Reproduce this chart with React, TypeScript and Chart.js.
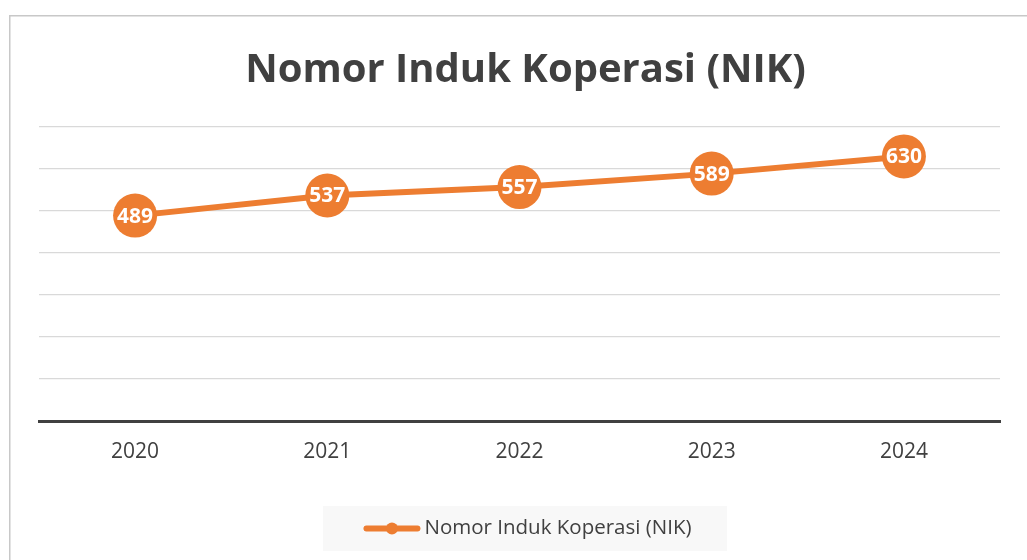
import { useEffect, useRef } from "react";
import { Chart, registerables } from "chart.js";

Chart.register(...registerables);

const chartTitle = "Nomor Induk Koperasi (NIK)";
const seriesLabel = "Nomor Induk Koperasi (NIK)";
const years = ["2020", "2021", "2022", "2023", "2024"];
const nikValues = [489, 537, 557, 589, 630];
const yMin = 0;
const yMax = 700;
const yStep = 100;

const ORANGE = "#ED7D31";
const TEXT = "#404040";
const FONT = "'Open Sans', 'Noto Sans', sans-serif";

const decorPlugin = {
  id: "decor",
  beforeDraw(chart: any) {
    const ctx = chart.ctx as CanvasRenderingContext2D;
    ctx.save();
    ctx.fillStyle = "#ffffff";
    ctx.fillRect(0, 0, chart.width, chart.height);
    ctx.strokeStyle = "#c8c8c8";
    ctx.lineWidth = 1.5;
    ctx.strokeRect(9.75, 15.75, chart.width + 40, chart.height + 40);

    // title
    ctx.fillStyle = TEXT;
    ctx.font = `bold 40px ${FONT}`;
    ctx.textAlign = "center";
    ctx.textBaseline = "alphabetic";
    ctx.fillText(chartTitle, 525.5, 82);

    // legend
    ctx.fillStyle = "#f8f8f8";
    ctx.fillRect(323, 506, 404, 45);
    ctx.font = `20.5px ${FONT}`;
    const tw = ctx.measureText(seriesLabel).width;
    const markerW = 57;
    const gap = 4;
    const total = markerW + gap + tw;
    const start = 527.5 - total / 2;
    const ly = 528.5;
    ctx.strokeStyle = ORANGE;
    ctx.lineWidth = 6;
    ctx.lineCap = "round";
    ctx.beginPath();
    ctx.moveTo(start + 3, ly);
    ctx.lineTo(start + markerW - 3, ly);
    ctx.stroke();
    ctx.fillStyle = ORANGE;
    ctx.beginPath();
    ctx.arc(start + markerW / 2, ly, 6, 0, Math.PI * 2);
    ctx.fill();
    ctx.fillStyle = TEXT;
    ctx.textAlign = "left";
    ctx.textBaseline = "middle";
    ctx.fillText(seriesLabel, start + markerW + gap, ly);
    ctx.restore();
  },
  afterDatasetsDraw(chart: any) {
    const ctx = chart.ctx as CanvasRenderingContext2D;
    const meta = chart.getDatasetMeta(0);
    const data = chart.data.datasets[0].data as number[];
    ctx.save();
    ctx.fillStyle = "#ffffff";
    ctx.font = `bold 21px ${FONT}`;
    ctx.textAlign = "center";
    ctx.textBaseline = "middle";
    meta.data.forEach((pt: any, i: number) => {
      ctx.fillText(String(data[i]), pt.x, pt.y + 1);
    });
    ctx.restore();
  },
};

export default function App() {
  const ref = useRef<HTMLCanvasElement | null>(null);
  useEffect(() => {
    if (!ref.current) return;
    const chart = new Chart(ref.current, {
      type: "line",
      data: {
        labels: years,
        datasets: [
          {
            label: seriesLabel,
            data: nikValues,
            borderColor: ORANGE,
            backgroundColor: ORANGE,
            borderWidth: 6,
            pointRadius: 22,
            pointHoverRadius: 22,
            pointBackgroundColor: ORANGE,
            pointBorderWidth: 0,
            tension: 0,
          },
        ],
      },
      options: {
        responsive: false,
        animation: false,
        layout: { padding: { left: 39, right: 27, top: 127, bottom: 0 } },
        plugins: {
          legend: { display: false },
          title: { display: false },
          tooltip: { enabled: false },
        },
        scales: {
          x: {
            offset: true,
            grid: { display: false, drawTicks: false },
            border: { display: true, color: TEXT, width: 3 },
            ticks: { color: TEXT, font: { family: FONT, size: 21 }, padding: 18, autoSkip: false, maxRotation: 0 },
            afterFit: (s: any) => {
              s.height = 139;
            },
          },
          y: {
            min: yMin,
            max: yMax,
            ticks: { display: false, stepSize: yStep },
            grid: { color: "#d9d9d9", lineWidth: 1.2, drawTicks: false },
            border: { display: false },
            afterFit: (s: any) => {
              s.width = 0;
            },
          },
        },
      },
      plugins: [decorPlugin],
    });
    return () => chart.destroy();
  }, []);
  return (
    <div style={{ position: "fixed", left: 0, top: 0, width: 1027, height: 560 }}>
      <canvas ref={ref} width={1027} height={560} style={{ display: "block" }} />
    </div>
  );
}
